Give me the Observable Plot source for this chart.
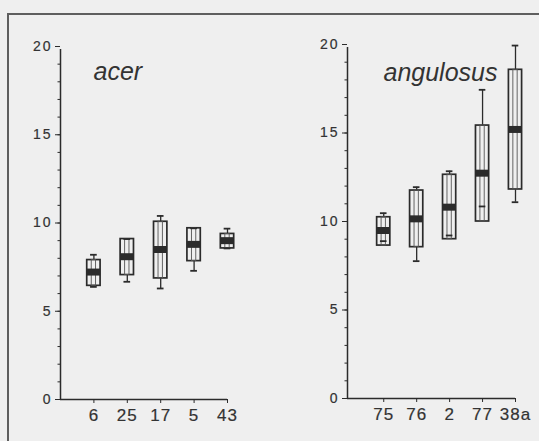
<!DOCTYPE html>
<html><head><meta charset="utf-8">
<script src="https://cdn.jsdelivr.net/npm/d3@7"></script>
<script src="https://cdn.jsdelivr.net/npm/@observablehq/plot@0.6"></script>
<style>
body{margin:0;background:#efefef;}
#wrap{position:relative;width:539px;height:441px;overflow:hidden;background:#efefef;font-family:"Liberation Sans",Arial,sans-serif;}
#frame{position:absolute;left:7px;top:13px;width:600px;height:500px;border:2px solid #5e5e5e;box-sizing:border-box;}
.panel{position:absolute;top:0;}
.panel svg{overflow:visible;}
g[aria-label="y-axis tick label"]{font-size:14px;fill:#333;stroke:#333;stroke-width:0.2px;}
g[aria-label="y-axis tick label"] text{letter-spacing:2px;}
g[aria-label="x-axis tick label"]{font-size:17px;fill:#333;stroke:#333;stroke-width:0.2px;}
g[aria-label="x-axis tick label"] text{letter-spacing:1px;}
</style></head><body><div id="wrap"><div id="frame"></div></div>
<script>
// acer
const acerLabels = ["6", "25", "17", "5", "43"];
const acerMin    = [6.38, 6.67, 6.29, 7.29, 8.56];
const acerQ1     = [6.44, 7.05, 6.86, 7.84, 8.56];
const acerMedian = [7.22, 8.09, 8.50, 8.79, 9.00];
const acerQ3     = [7.90, 9.09, 10.07, 9.70, 9.38];
const acerMax    = [8.20, 9.09, 10.40, 9.70, 9.68];
// angulosus
const angLabels = ["75", "76", "2", "77", "38a"];
const angMin    = [8.89, 7.76, 9.21, 10.85, 11.09];
const angQ1     = [8.64, 8.55, 9.00, 10.00, 11.81];
const angMedian = [9.49, 10.15, 10.81, 12.73, 15.20];
const angQ3     = [10.24, 11.75, 12.64, 15.42, 18.57];
const angMax    = [10.47, 11.94, 12.84, 17.44, 19.94];

const yTicks = [0, 5, 10, 15, 20];
const yMinor = d3.range(0, 21);
const ink = "#2b2b2b";
const bg = "#efefef";

function panel(o) {
  const data = o.labels.map((l, k) => ({i: k + 1, label: l, min: o.mn[k], q1: o.q1[k], median: o.md[k], q3: o.q3[k], max: o.mx[k]}));
  const x0 = o.xDomain[0];
  const chart = Plot.plot({
    width: o.width, height: 441,
    marginLeft: o.marginLeft, marginRight: o.marginRight, marginTop: o.marginTop, marginBottom: o.marginBottom,
    style: {background: "transparent", fontFamily: "'Liberation Sans', Arial, sans-serif", color: "#333"},
    x: {domain: o.xDomain},
    y: {domain: [0, 20]},
    marks: [
      Plot.ruleX(data, {x: "i", y1: "min", y2: "max", stroke: ink, strokeWidth: 1.3}),
      Plot.rect(data, {x1: d => d.i - 0.2, x2: d => d.i + 0.2, y1: "q1", y2: "q3", fill: bg, stroke: ink, strokeWidth: 1.7}),
      Plot.rect(data, {x1: d => d.i - 0.065, x2: d => d.i + 0.065, y1: "q1", y2: "q3", fill: "none", stroke: "#555", strokeWidth: 0.9}),
      Plot.ruleY(data, {y: "max", x1: d => d.i - 0.1, x2: d => d.i + 0.1, stroke: ink, strokeWidth: 1.8}),
      Plot.ruleY(data, {y: "min", x1: d => d.i - 0.1, x2: d => d.i + 0.1, stroke: ink, strokeWidth: 1.8}),
      Plot.ruleY(data, {y: "median", x1: d => d.i - 0.2, x2: d => d.i + 0.2, stroke: ink, strokeWidth: 7}),
      Plot.ruleX([x0], {y1: 0, y2: 20, insetBottom: -3, stroke: ink, strokeWidth: 1.5}),
      Plot.ruleY([0], {x1: x0, x2: 5, stroke: ink, strokeWidth: 1.5}),
      Plot.axisY({ticks: yMinor, tickSize: 2.5, tickFormat: () => "", stroke: ink}),
      Plot.axisY({ticks: yTicks, tickSize: 5, tickPadding: 3, stroke: ink, label: null}),
      Plot.axisX({ticks: [1, 2, 3, 4, 5], tickFormat: i => o.labels[i - 1], tickSize: 4, tickPadding: 5, stroke: ink, label: null}),
      Plot.text([o.title], {frameAnchor: "top-left", dx: o.titleDx, dy: o.titleDy, textAnchor: "start", lineAnchor: "bottom", fontSize: 25, fontStyle: "italic", fill: "#333"})
    ]
  });
  const div = document.createElement("div");
  div.className = "panel";
  div.style.left = o.left + "px";
  div.appendChild(chart);
  document.getElementById("wrap").appendChild(div);
}

panel({title: "acer", labels: acerLabels, mn: acerMin, q1: acerQ1, md: acerMedian, q3: acerQ3, mx: acerMax,
  left: 0, width: 270, marginLeft: 60, marginRight: 43, marginTop: 46, marginBottom: 42, xDomain: [0, 5], titleDx: 33, titleDy: 33});
panel({title: "angulosus", labels: angLabels, mn: angMin, q1: angQ1, md: angMedian, q3: angQ3, mx: angMax,
  left: 270, width: 269, marginLeft: 77, marginRight: 24, marginTop: 44, marginBottom: 43, xDomain: [-0.1, 5], titleDx: 36, titleDy: 36});
</script></body></html>
